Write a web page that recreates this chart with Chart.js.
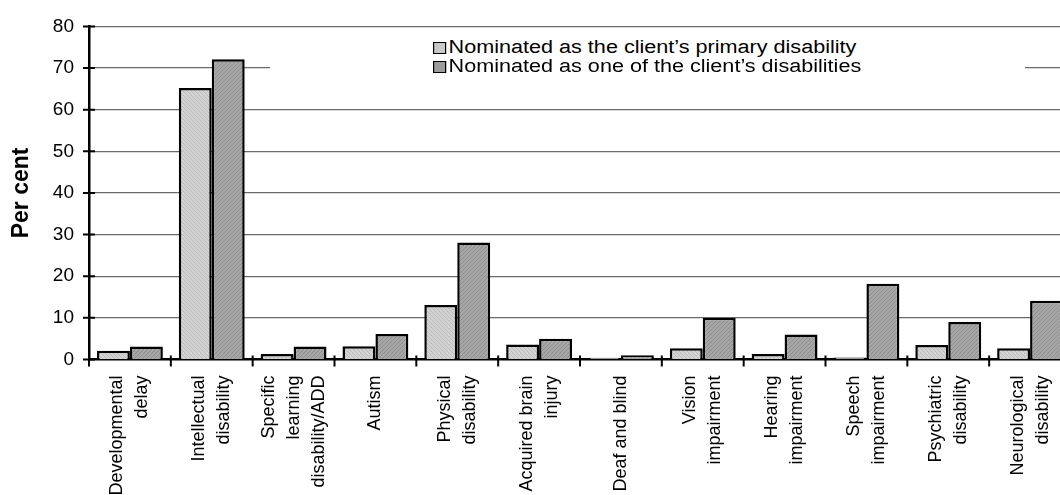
<!DOCTYPE html>
<html>
<head>
<meta charset="utf-8">
<script src="https://cdn.jsdelivr.net/npm/chart.js@4.4.1/dist/chart.umd.min.js"></script>
<style>
  html, body { margin: 0; padding: 0; background: #fff; overflow: hidden; }
  #wrap { position: relative; width: 1100px; height: 495px; }
  #legend { position: absolute; left: 270px; top: 32px; width: 755px; height: 42px; background: #fff;
    font: 18px Arial, 'Liberation Sans', sans-serif; color: #000; }
  .row { position: absolute; left: 163px; white-space: nowrap; line-height: 18px;
    transform-origin: left center; transform: scaleX(1.2); }
  .sw { display: inline-block; width: 9px; height: 10px; border: 1.8px solid #000; margin-right: 2px; vertical-align: -1px; }
</style>
</head>
<body>
<div id="wrap">
  <canvas id="chart"></canvas>
  <div id="legend"></div>
</div>
<script>
// categories and values (per cent)
const categories = [
  ['Developmental', 'delay'], ['Intellectual', 'disability'], ['Specific', 'learning', 'disability/ADD'],
  'Autism', ['Physical', 'disability'], ['Acquired brain', 'injury'], 'Deaf and blind',
  ['Vision', 'impairment'], ['Hearing', 'impairment'], ['Speech', 'impairment'],
  ['Psychiatric', 'disability'], ['Neurological', 'disability']
];
const seriesNames = ['Nominated as the client\u2019s primary disability', 'Nominated as one of the client\u2019s disabilities'];
const primary = [2.1, 65.2, 1.3, 3.2, 13.1, 3.6, 0.4, 2.7, 1.3, 0.5, 3.5, 2.7];
const anyDisability = [3.1, 72.1, 3.1, 6.1, 28.1, 5.0, 1.0, 10.0, 6.0, 18.2, 9.0, 14.1];
const yTicks = [0, 10, 20, 30, 40, 50, 60, 70, 80];

function makePattern(base, dot, diag) {
  const c = document.createElement('canvas');
  c.width = 4; c.height = 4;
  const g = c.getContext('2d');
  g.fillStyle = base; g.fillRect(0, 0, 4, 4);
  g.fillStyle = dot;
  if (diag) { g.fillRect(0, 0, 1, 1); g.fillRect(2, 2, 1, 1); g.fillRect(1, 1, 1, 1); g.fillRect(3, 3, 1, 1); }
  else { g.fillRect(0, 0, 1, 1); g.fillRect(2, 2, 1, 1); g.fillRect(1, 3, 1, 1); g.fillRect(3, 1, 1, 1); }
  return g.createPattern(c, 'repeat');
}
const fills = [makePattern('#d2d2d2', '#bcbcbc', true), makePattern('#a6a6a6', '#8e8e8e', false)];
const swatchCss = ['#c9c9c9', '#9c9c9c'];

document.getElementById('legend').innerHTML = seriesNames.map((n, i) =>
  `<div class="row" style="top:${6 + i * 19}px"><span class="sw" style="background:${swatchCss[i]}"></span>${n}</div>`
).join('');

const font = "Arial, 'Liberation Sans', sans-serif";

// tick marks crossing the axes, and the rotated category labels centred on each category
const axisExtras = {
  id: 'axisExtras',
  afterDatasetsDraw(chart) {
    const { ctx, scales: { x, y }, chartArea: a } = chart;
    ctx.save();
    ctx.strokeStyle = '#000';
    ctx.lineWidth = 2;
    ctx.beginPath();
    y.ticks.forEach((t, i) => {
      const py = y.getPixelForTick(i);
      ctx.moveTo(a.left - 6, py); ctx.lineTo(a.left + 6, py);
    });
    for (let i = 0; i <= categories.length; i++) {
      const px = x.getPixelForValue(i - 0.5);
      ctx.moveTo(px, a.bottom - 4); ctx.lineTo(px, a.bottom + 7);
    }
    ctx.stroke();

    ctx.fillStyle = '#000';
    ctx.font = `18px ${font}`;
    ctx.textAlign = 'right';
    ctx.textBaseline = 'middle';
    categories.forEach((lab, i) => {
      const lines = [].concat(lab);
      const cx = x.getPixelForValue(i);
      lines.forEach((ln, j) => {
        ctx.save();
        ctx.translate(cx + (j - (lines.length - 1) / 2) * 25, a.bottom + 16);
        ctx.rotate(-Math.PI / 2);
        ctx.fillText(ln, 0, 0);
        ctx.restore();
      });
    });
    ctx.restore();
  }
};

new Chart(document.getElementById('chart'), {
  type: 'bar',
  data: {
    labels: categories,
    datasets: [
      { label: seriesNames[0], data: primary, backgroundColor: fills[0], borderColor: '#000', borderWidth: 2.5 },
      { label: seriesNames[1], data: anyDisability, backgroundColor: fills[1], borderColor: '#000', borderWidth: 2.5 }
    ]
  },
  options: {
    responsive: true,
    maintainAspectRatio: false,
    animation: false,
    devicePixelRatio: 1,
    datasets: { bar: { categoryPercentage: 0.805, barPercentage: 1 } },
    layout: { padding: { top: 22.5, right: 29, bottom: 0, left: 0 } },
    plugins: { legend: { display: false }, tooltip: { enabled: false } },
    scales: {
      x: {
        offset: true,
        grid: { drawOnChartArea: false, drawTicks: false },
        border: { display: true, color: '#000', width: 2.5 },
        ticks: { display: false },
        afterFit: s => { s.height = 135.5; }
      },
      y: {
        min: 0, max: 80,
        afterBuildTicks: s => { s.ticks = yTicks.map(v => ({ value: v })); },
        grid: { color: c => c.tick && c.tick.value === 0 ? 'rgba(0,0,0,0)' : '#6a6a6a', lineWidth: 1.2, drawTicks: false },
        border: { display: true, color: '#000', width: 2.5 },
        ticks: { color: '#000', font: { family: font, size: 19 }, padding: 15 },
        title: { display: true, text: 'Per cent', color: '#000', font: { family: font, size: 23, weight: 'bold' }, padding: { top: 8, bottom: 0 } },
        afterFit: s => { s.width = 89; }
      }
    }
  },
  plugins: [axisExtras]
});
</script>
</body>
</html>
